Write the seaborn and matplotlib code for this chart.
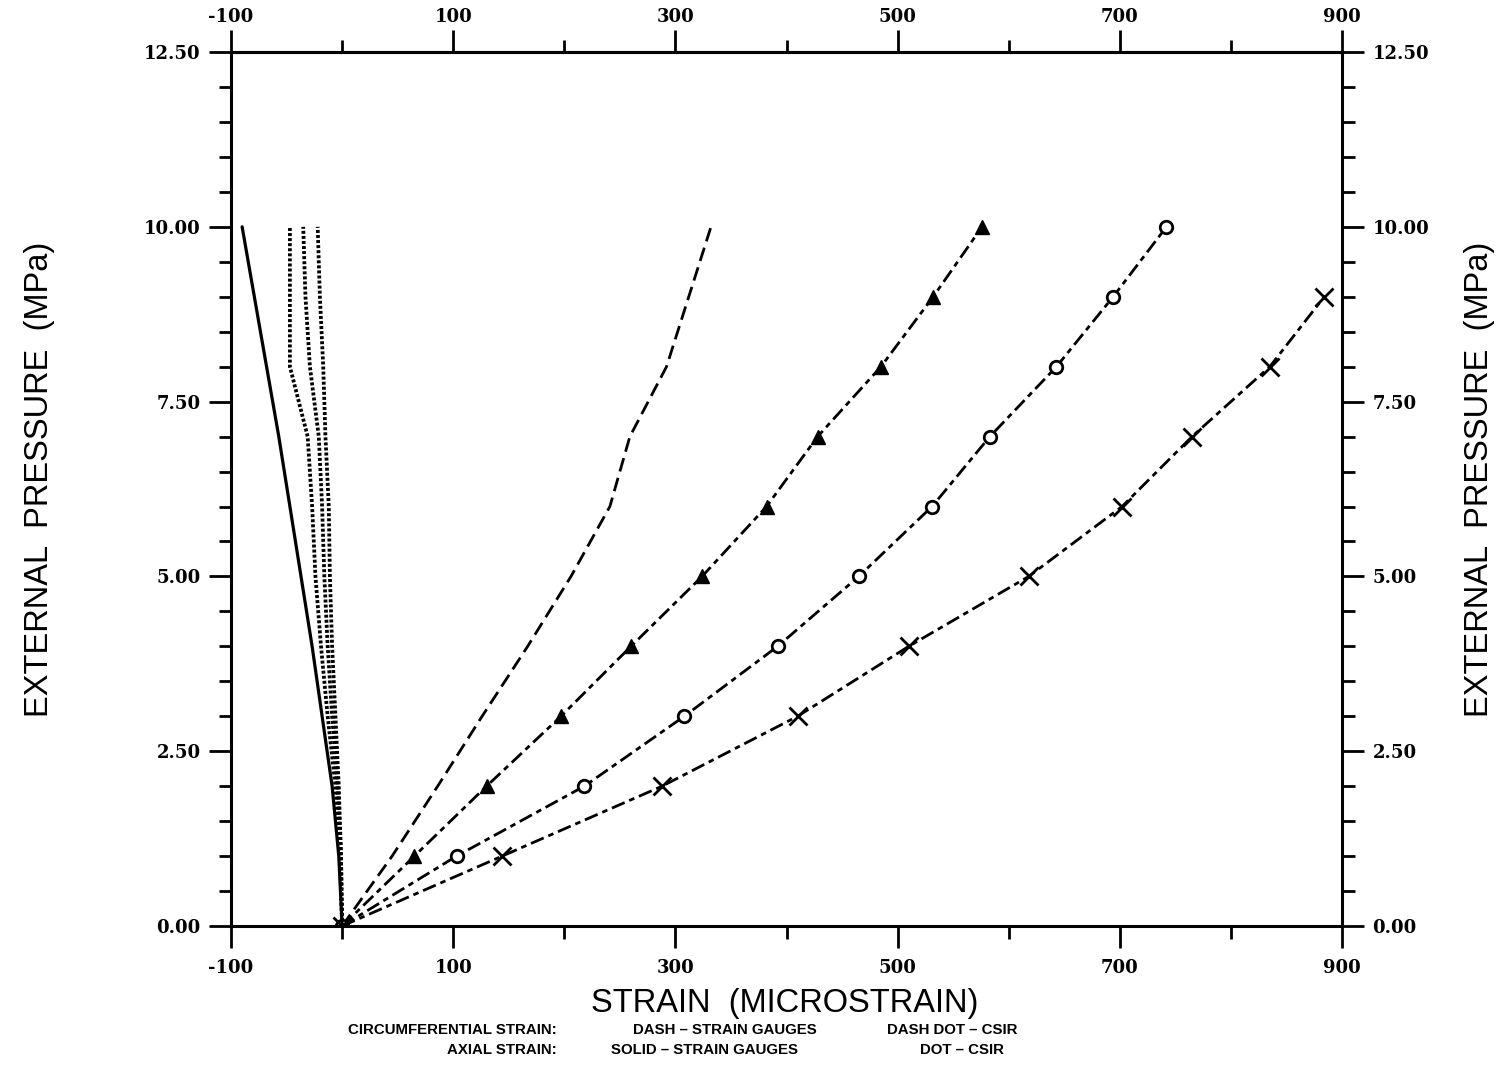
import pandas as pd
import seaborn as sns
import matplotlib.pyplot as plt
from matplotlib.ticker import MultipleLocator, FormatStrFormatter

# pressure levels (MPa)
pressure = [0, 1, 2, 3, 4, 5, 6, 7, 8, 9, 10]
pressure_x = [0, 1, 2, 3, 4, 5, 6, 7, 8, 9]

# circumferential strain (microstrain)
circ_gauge = [0, 45, 86, 126, 167, 206, 241, 259, 292, 312, 332]
circ_csir_tri = [0, 65, 130, 197, 260, 324, 382, 428, 485, 532, 576]
circ_csir_circ = [0, 103, 218, 308, 392, 465, 531, 583, 643, 694, 742]
circ_csir_x = [0, 144, 288, 410, 510, 618, 702, 765, 835, 884]

# axial strain (microstrain)
axial_gauge = [0, -3, -9, -18, -27, -37, -47, -57, -68, -79, -90]
axial_csir_a = [0, -2, -6, -13, -19, -24, -27, -31, -47, -47, -47]
axial_csir_b = [0, -1, -4, -9, -13, -16, -18, -21, -29, -33, -35]
axial_csir_c = [0, -1, -3, -6, -9, -11, -12, -15, -17, -20, -22]

x_ticks = [-100, 100, 300, 500, 700, 900]
x_minor = [0, 200, 400, 600, 800]

sns.set_style("ticks", {"axes.edgecolor": "black", "text.color": "black",
                        "xtick.color": "black", "ytick.color": "black"})
plt.rcParams["font.family"] = ["Liberation Sans", "DejaVu Sans"]
plt.rcParams["axes.unicode_minus"] = False

fig = plt.figure(figsize=(15.04, 10.66), dpi=100)
ax = fig.add_axes([0.1536, 0.1313, 0.7387, 0.8199])

lw = 2.0
dash = (0, (5.0, 2.4))
dashdot = (0, (5.0, 1.8, 2.0, 1.8))
dot = (0, (0.8, 0.55))

sns.lineplot(x=circ_gauge, y=pressure, sort=False, estimator=None, ax=ax,
             color="black", lw=lw, linestyle=dash)
sns.lineplot(x=circ_csir_tri, y=pressure, sort=False, estimator=None, ax=ax,
             color="black", lw=lw, linestyle=dashdot, marker="^", markersize=10,
             markerfacecolor="black", markeredgecolor="black", markeredgewidth=1)
sns.lineplot(x=circ_csir_circ, y=pressure, sort=False, estimator=None, ax=ax,
             color="black", lw=lw, linestyle=dashdot, marker="o", markersize=9,
             markerfacecolor="white", markeredgecolor="black", markeredgewidth=2)
sns.lineplot(x=circ_csir_x, y=pressure_x, sort=False, estimator=None, ax=ax,
             color="black", lw=lw, linestyle=dashdot, marker="x", markersize=13,
             markeredgecolor="black", markeredgewidth=2)

sns.lineplot(x=axial_gauge, y=pressure, sort=False, estimator=None, ax=ax,
             color="black", lw=2.3, linestyle="-")
for vals in [axial_csir_a, axial_csir_b, axial_csir_c]:
    sns.lineplot(x=vals, y=pressure, sort=False, estimator=None, ax=ax,
                 color="black", lw=2.7, linestyle=dot)

ax.set_xlim(-100, 900)
ax.set_ylim(0, 12.5)
ax.xaxis.set_major_locator(plt.FixedLocator(x_ticks))
ax.xaxis.set_minor_locator(plt.FixedLocator(x_minor))
ax.yaxis.set_major_locator(MultipleLocator(2.5))
ax.yaxis.set_minor_locator(MultipleLocator(0.5))
ax.yaxis.set_major_formatter(FormatStrFormatter("%.2f"))

for s in ax.spines.values():
    s.set_linewidth(2.2)
    s.set_color("black")
    s.set_visible(True)

ax.tick_params(which="both", direction="out", width=2, top=False, right=True,
               labelright=True, color="black", labelcolor="black")
ax.tick_params(which="major", length=16, pad=6, labelsize=13)
ax.tick_params(which="minor", length=9)
ax.tick_params(axis="x", which="major", pad=8)

# top axis with its own label spacing
top = ax.secondary_xaxis("top")
top.set_xticks(x_ticks)
top.set_xticks(x_minor, minor=True)
top.spines["top"].set_linewidth(2.2)
top.spines["top"].set_color("black")
top.tick_params(which="both", direction="out", width=2, color="black",
                labelcolor="black")
top.tick_params(which="major", length=16, pad=3, labelsize=13)
top.tick_params(which="minor", length=9)

for lab in (ax.get_xticklabels() + ax.get_yticklabels()
            + top.get_xticklabels()):
    lab.set_fontfamily("DejaVu Serif")
    lab.set_fontweight("bold")
ax.set_xlabel("")
ax.set_ylabel("")

fig.text(0.522, 0.059, "STRAIN  (MICROSTRAIN)", ha="center", va="center",
         fontsize=23.5, color="black")
fig.text(0.026, 0.55, "EXTERNAL  PRESSURE  (MPa)", ha="center", va="center",
         rotation=90, fontsize=23.5, color="black")
fig.text(0.984, 0.55, "EXTERNAL  PRESSURE  (MPa)", ha="center", va="center",
         rotation=90, fontsize=23.5, color="black")

leg = dict(fontsize=10.8, fontweight="bold", va="center", color="black")
fig.text(0.370, 0.034, "CIRCUMFERENTIAL STRAIN:", ha="right", **leg)
fig.text(0.370, 0.015, "AXIAL STRAIN:", ha="right", **leg)
fig.text(0.421, 0.034, "DASH \u2013 STRAIN GAUGES", ha="left", **leg)
fig.text(0.406, 0.015, "SOLID \u2013 STRAIN GAUGES", ha="left", **leg)
fig.text(0.590, 0.034, "DASH DOT \u2013 CSIR", ha="left", **leg)
fig.text(0.612, 0.015, "DOT \u2013 CSIR", ha="left", **leg)

plt.savefig("out.png", dpi=100, facecolor="white")
